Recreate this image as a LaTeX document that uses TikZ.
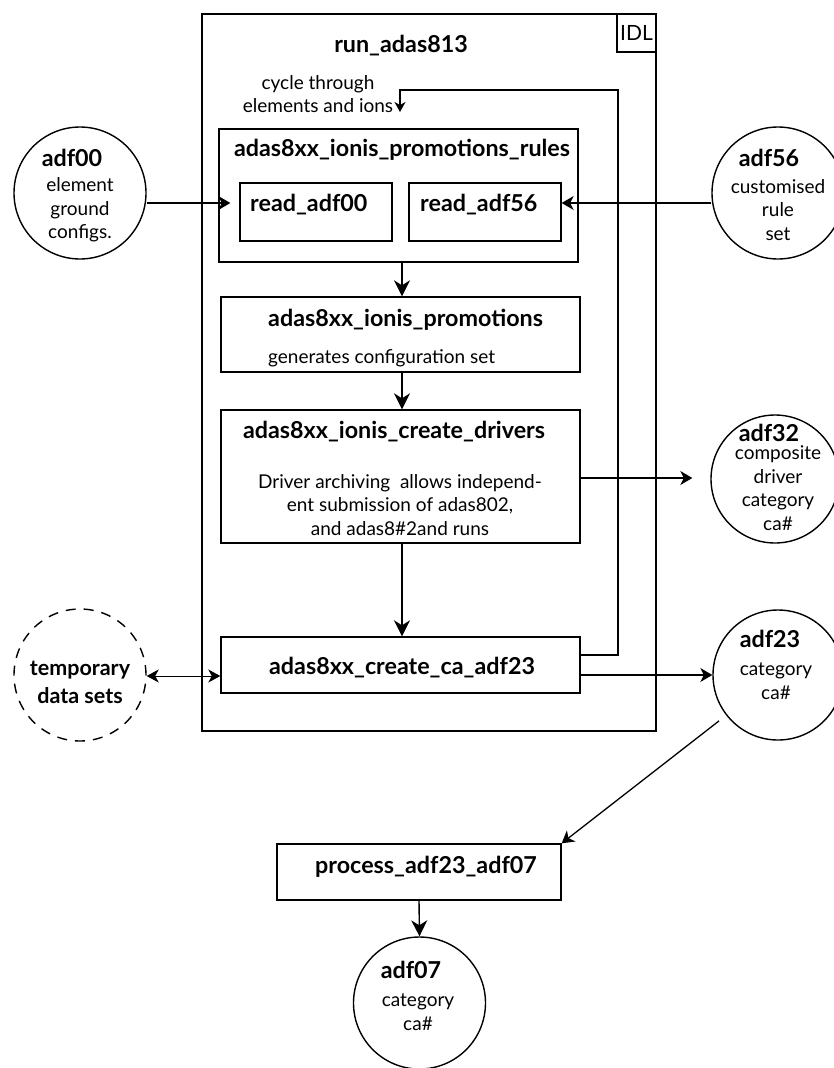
\documentclass[tikz,border=0pt]{standalone}
\usepackage{fontspec}
\setmainfont{Lato}
\usetikzlibrary{arrows.meta,calc}
\tikzset{
  box/.style={draw, line width=1.4pt, inner sep=0pt},
  circ/.style={draw, circle, line width=1.4pt, inner sep=0pt},
  arr/.style={line width=1.4pt, -{Stealth[length=16pt,width=16pt,inset=5pt]}},
  sarr/.style={line width=1.3pt, -{Stealth[length=12pt,width=14pt,inset=3.5pt]}},
  bt/.style={inner sep=0pt, font=\bfseries\fontsize{23.3}{26}\selectfont},
  rt/.style={inner sep=0pt, align=center, font=\fontsize{19}{23.5}\selectfont},
}
\begin{document}
\begin{tikzpicture}[x=1pt,y=-1pt]
\useasboundingbox (0,0) rectangle (833,1068);
% outer IDL frame
\node[box, minimum width=454pt, minimum height=717pt] (outer) at (429,372.5) {};
\node[box, minimum width=39pt, minimum height=38pt] (idl) at (636.5,33) {};
\node[rt, font=\fontsize{21}{24}\selectfont] (idltxt) at (636.5,33) {IDL};
\node[bt] (title) at (401,46) {run\_adas813};
\node[rt] (cycle) at (318,94) {cycle through\\elements and ions};

% boxes
\node[box, minimum width=359pt, minimum height=133pt] (rules) at (398.5,195.5) {};
\node[bt] (rulestxt) at (402,150) {adas8xx\_ionis\_promotions\_rules};
\node[box, minimum width=152pt, minimum height=58pt] (read00) at (316,212) {};
\node[bt, anchor=west] (read00txt) at (250,205) {read\_adf00};
\node[box, minimum width=152pt, minimum height=58pt] (read56) at (485,212) {};
\node[bt, anchor=west] (read56txt) at (420,205) {read\_adf56};

\node[box, minimum width=359pt, minimum height=75pt] (promo) at (400.5,334.5) {};
\node[bt, anchor=west] (promotxt) at (268,320) {adas8xx\_ionis\_promotions};
\node[rt, anchor=west] (promosub) at (268,358) {generates configuration set};

\node[box, minimum width=359pt, minimum height=133pt] (drivers) at (400.5,476.5) {};
\node[bt] (driverstxt) at (394,432) {adas8xx\_ionis\_create\_drivers};
\node[rt] (driverssub) at (400,505) {Driver archiving\ \ allows independ-\\ent submission of adas802,\\and adas8\#2and runs};

\node[box, minimum width=359pt, minimum height=56pt] (create23) at (400.5,665) {};
\node[bt] (create23txt) at (402,668) {adas8xx\_create\_ca\_adf23};

\node[box, minimum width=284pt, minimum height=56pt] (process) at (419,872) {};
\node[bt] (processtxt) at (426,867) {process\_adf23\_adf07};

% data set circles
\node[circ, minimum size=132pt] (adf00) at (80,193) {};
\node[bt] (adf00t) at (72,158) {adf00};
\node[rt] (adf00s) at (80,210) {element\\ground\\configs.};

\node[circ, minimum size=132pt] (adf56) at (778,193) {};
\node[bt] (adf56t) at (769,158) {adf56};
\node[rt] (adf56s) at (778,210) {customised\\rule\\set};

\node[circ, minimum size=128pt] (adf32) at (775,479) {};
\node[bt] (adf32t) at (769,433) {adf32};
\node[rt] (adf32s) at (778,488) {composite\\driver\\category\\ca\#};

\node[circ, dash pattern=on 10pt off 8pt, minimum size=132pt] (temp) at (80,675) {};
\node[bt, align=center, font=\bfseries\fontsize{21.5}{28}\selectfont] (tempt) at (80,682) {temporary\\data sets};

\node[circ, minimum size=130pt] (adf23) at (778,675) {};
\node[bt] (adf23t) at (770,639) {adf23};
\node[rt] (adf23s) at (776,681) {category\\ca\#};

\node[circ, minimum size=132pt] (adf07) at (419.5,1003) {};
\node[bt] (adf07t) at (411,970) {adf07};
\node[rt] (adf07s) at (418,1012) {category\\ca\#};

% connectors
\draw[sarr, shorten >=9pt] ([yshift=-10pt]adf00.east) -- ([yshift=-10pt]adf00.east -| read00.west);
\draw[sarr] ([yshift=-10pt]adf56.west) -- ([yshift=-10pt]adf56.west -| read56.east);
\draw[arr] (rules.south -| 402,0) -- (promo.north -| 402,0);
\draw[arr] (promo.south -| 402,0) -- (drivers.north -| 402,0);
\draw[arr] (drivers.south -| 402,0) -- (create23.north -| 402,0);
\draw[sarr, shorten >=18pt] ([yshift=-1.5pt]drivers.east) -- ([yshift=-1.5pt]drivers.east -| adf32.west);
\draw[sarr] ([yshift=-10pt]create23.east) -- ([yshift=-10pt]create23.east -| adf23.west);
\draw[line width=0.9pt, {Stealth[length=12pt,width=13pt,inset=3.5pt]}-{Stealth[length=12pt,width=13pt,inset=3.5pt]}] ([yshift=-1pt]temp.east) -- ([yshift=-1pt]temp.east -| create23.west);
\coordinate (lpR) at (618,90);
\coordinate (lpL) at (400,90);
\coordinate (lpEnd) at (400,112);
\draw[line width=1.3pt, -{Stealth[length=10pt,width=11pt,inset=3pt]}] ([yshift=10pt]create23.east) -- ([yshift=10pt]create23.east -| lpR) -- (lpR) -- (lpL) -- (lpEnd);
\draw[sarr, shorten <=9pt] (adf23) -- (process.north east);
\draw[arr] (process.south) -- (adf07.north);
\end{tikzpicture}
\end{document}
